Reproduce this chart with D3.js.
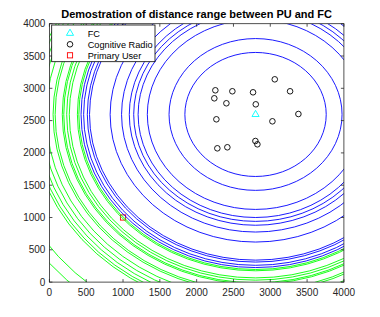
<!DOCTYPE html>
<html><head><meta charset="utf-8">
<script src="https://cdn.jsdelivr.net/npm/d3@7"></script>
<style>body{margin:0;background:#fff}svg{display:block}</style>
</head><body>
<script>
const fc = [2800, 2595];
const pu = [1000, 1000];
const crX = [3061, 2254, 2485, 2766, 3269, 2240, 2404, 2803, 3382, 2268, 3029, 2798, 2825, 2281, 2417];
const crY = [3139, 2969, 2954, 2938, 2954, 2845, 2768, 2752, 2602, 2520, 2489, 2184, 2133, 2071, 2087];
const blueRadii = [960, 1175, 1470, 1595, 1655, 1715, 1820, 1975, 2255, 2285, 2335, 2370];
const greenRadii = [2400, 2420, 2530, 2565, 2605, 2625, 2722, 2750, 2842, 2905, 2963, 3015, 3050, 3465, 3625];
const ticks = [0, 500, 1000, 1500, 2000, 2500, 3000, 3500, 4000];
const legendLabels = ["FC", "Cognitive Radio", "Primary User"];
const titleText = "Demostration of distance range between PU and FC";

const W = 380, H = 317;
const L = 49.4, R = 343.9, T = 23.7, B = 282.1;
const svg = d3.select("body").append("svg").attr("width", W).attr("height", H);
const x = d3.scaleLinear().domain([0, 4000]).range([L, R]);
const y = d3.scaleLinear().domain([0, 4000]).range([B, T]);
const axCol = "#262626";
const font = "'Liberation Sans', Arial, sans-serif";

svg.append("defs").append("clipPath").attr("id", "clip")
  .append("rect").attr("x", L).attr("y", T).attr("width", R - L).attr("height", B - T);

const plot = svg.append("g").attr("clip-path", "url(#clip)");

// markers
const crs = crX.map((v, i) => [v, crY[i]]);
const tri = d3.symbol().type(d3.symbolTriangle).size(22);

plot.selectAll(".cr").data(crs).join("circle")
  .attr("cx", d => x(d[0])).attr("cy", d => y(d[1])).attr("r", 2.8)
  .attr("fill", "none").attr("stroke", "#000").attr("stroke-width", 0.9);
plot.append("path").attr("d", tri)
  .attr("transform", `translate(${x(fc[0])},${y(fc[1])})`)
  .attr("fill", "none").attr("stroke", "#00ffff").attr("stroke-width", 0.9);
plot.append("rect").attr("x", x(pu[0]) - 2.6).attr("y", y(pu[1]) - 2.6)
  .attr("width", 5.2).attr("height", 5.2)
  .attr("fill", "none").attr("stroke", "#ff0000").attr("stroke-width", 0.9);

// circles
function ring(r, col) {
  plot.append("ellipse")
    .attr("cx", x(fc[0])).attr("cy", y(fc[1]))
    .attr("rx", x(r) - x(0)).attr("ry", y(0) - y(r))
    .attr("fill", "none").attr("stroke", col).attr("stroke-width", 0.9);
}
greenRadii.forEach(r => ring(r, "#00ff00"));
blueRadii.forEach(r => ring(r, "#0000ff"));

// axes box
const axes = svg.append("g");
axes.append("rect").attr("x", L).attr("y", T).attr("width", R - L).attr("height", B - T)
  .attr("fill", "none").attr("stroke", axCol).attr("stroke-width", 0.8);
const tl = 3;
ticks.forEach(t => {
  axes.append("line").attr("x1", x(t)).attr("x2", x(t)).attr("y1", B).attr("y2", B - tl).attr("stroke", axCol).attr("stroke-width", 0.8);
  axes.append("line").attr("x1", x(t)).attr("x2", x(t)).attr("y1", T).attr("y2", T + tl).attr("stroke", axCol).attr("stroke-width", 0.8);
  axes.append("line").attr("y1", y(t)).attr("y2", y(t)).attr("x1", L).attr("x2", L + tl).attr("stroke", axCol).attr("stroke-width", 0.8);
  axes.append("line").attr("y1", y(t)).attr("y2", y(t)).attr("x1", R).attr("x2", R - tl).attr("stroke", axCol).attr("stroke-width", 0.8);
  axes.append("text").attr("x", x(t)).attr("y", B + 14).attr("text-anchor", "middle")
    .attr("font-family", font).attr("font-size", 10).attr("fill", axCol).text(t);
  axes.append("text").attr("x", L - 4).attr("y", y(t) + 3.5).attr("text-anchor", "end")
    .attr("font-family", font).attr("font-size", 10).attr("fill", axCol).text(t);
});

// title
svg.append("text").attr("x", (L + R) / 2).attr("y", 17.5).attr("text-anchor", "middle")
  .attr("font-family", font).attr("font-size", 11).attr("font-weight", "bold").attr("fill", "#000")
  .text(titleText);

// legend
const lg = svg.append("g");
const lx = 51.7, ly = 25, lw = 103.3, lh = 36.7;
lg.append("rect").attr("x", lx).attr("y", ly).attr("width", lw).attr("height", lh)
  .attr("fill", "#fff").attr("stroke", "#000").attr("stroke-width", 0.8);
const rowY = [33.3, 44.3, 55.3];
legendLabels.forEach((lab, i) => {
  const cy = rowY[i], mx = 70;
  if (i === 0) lg.append("path").attr("d", tri).attr("transform", `translate(${mx},${cy})`)
    .attr("fill", "none").attr("stroke", "#00ffff").attr("stroke-width", 0.9);
  if (i === 1) lg.append("circle").attr("cx", mx).attr("cy", cy).attr("r", 2.8)
    .attr("fill", "none").attr("stroke", "#000").attr("stroke-width", 0.9);
  if (i === 2) lg.append("rect").attr("x", mx - 2.6).attr("y", cy - 2.6).attr("width", 5.2).attr("height", 5.2)
    .attr("fill", "none").attr("stroke", "#ff0000").attr("stroke-width", 0.9);
  lg.append("text").attr("x", 87.7).attr("y", cy + 3.3).attr("font-family", font).attr("font-size", 9.2)
    .attr("fill", "#000").text(lab);
});
</script>
</body></html>
